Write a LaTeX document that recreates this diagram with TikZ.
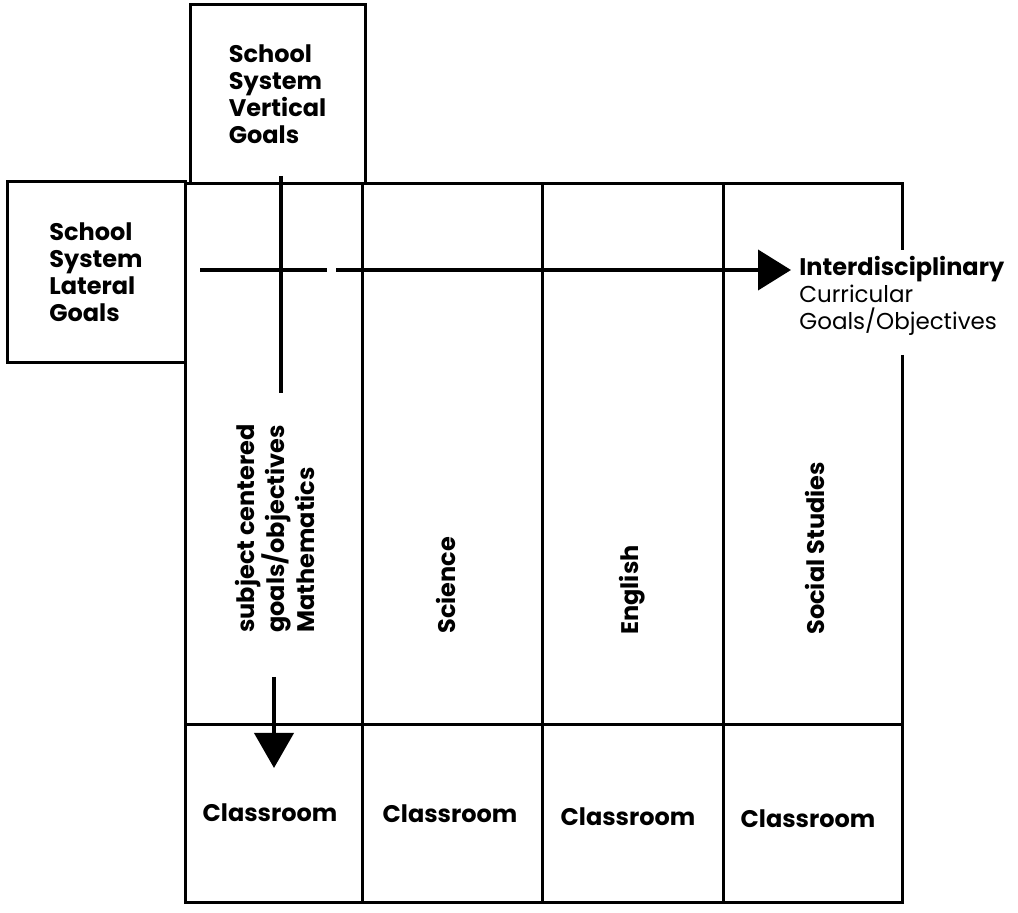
\documentclass[tikz,border=0pt]{standalone}
\usepackage{fontspec}
\setmainfont{Poppins}
\usetikzlibrary{arrows.meta, positioning}

\begin{document}
\begin{tikzpicture}[x=0.5pt, y=-0.5pt,
    goalbox/.style={rectangle, draw, line width=1.5pt, align=left, inner sep=0pt, font=\bfseries\fontsize{12}{13.5}\selectfont},
    subject/.style={rotate=90, anchor=west, align=left, inner sep=0pt, font=\bfseries\fontsize{12}{15}\selectfont},
    room/.style={inner sep=0pt, font=\bfseries\fontsize{12}{13.5}\selectfont},
    rule/.style={line width=1.5pt},
    flow/.style={draw, line width=2pt}]

    \useasboundingbox (0,0) rectangle (1018,913);

    % Goal boxes
    \node [goalbox, minimum width=87.5pt, minimum height=89.5pt] (vgoals) at (277.5,94.5) {School\\System\\Vertical\\Goals};
    \node [goalbox, minimum width=89pt, minimum height=90.5pt] (lgoals) at (96,272.5) {School\\System\\Lateral\\Goals};

    % Subject grid
    \draw [rule] (185,184) -- (902,184) -- (902,250);
    \draw [rule] (902,355) -- (902,903) -- (185,903) -- (185,184);
    \draw [rule] (185,725) -- (902,725);
    \foreach \x in {362,542,723}
        \draw [rule] (\x,184) -- (\x,903);

    % Subjects
    \node [subject] (math) at (275,633) {subject centered\\goals/objectives\\Mathematics};
    \node [subject] (science) at (446,634) {Science};
    \node [subject] (english) at (632,635) {English};
    \node [subject] (social) at (815,635) {Social Studies};

    % Classrooms
    \node [room] (room1) at (270,813) {Classroom};
    \node [room] (room2) at (450,814) {Classroom};
    \node [room] (room3) at (628,817) {Classroom};
    \node [room] (room4) at (808,819) {Classroom};

    % Lateral goals
    \node [anchor=north west, align=left, inner sep=0pt, font=\fontsize{11.5}{13.5}\selectfont] (interdisc) at (799,256)
        {{\bfseries\fontsize{12}{13.5}\selectfont Interdisciplinary}\\Curricular\\Goals/Objectives};
    \coordinate (hstart) at (200,270);
    \coordinate (hbreak) at (327,270);
    \coordinate (hresume) at (336,270);
    \path [flow] (hstart) -- (hbreak);
    \path [flow, shorten >=4pt, -{Triangle[length=16.5pt, width=20pt]}] (hresume) -- (interdisc.west |- hstart);

    % Vertical goals
    \coordinate (vstart) at (281,176);
    \coordinate (vbreak) at (281,393);
    \coordinate (vresume) at (274,677);
    \coordinate (vend) at (274,768);
    \path [flow] (vstart) -- (vbreak);
    \path [flow, -{Triangle[length=17.5pt, width=19.5pt]}] (vresume) -- (vend);

\end{tikzpicture}
\end{document}
